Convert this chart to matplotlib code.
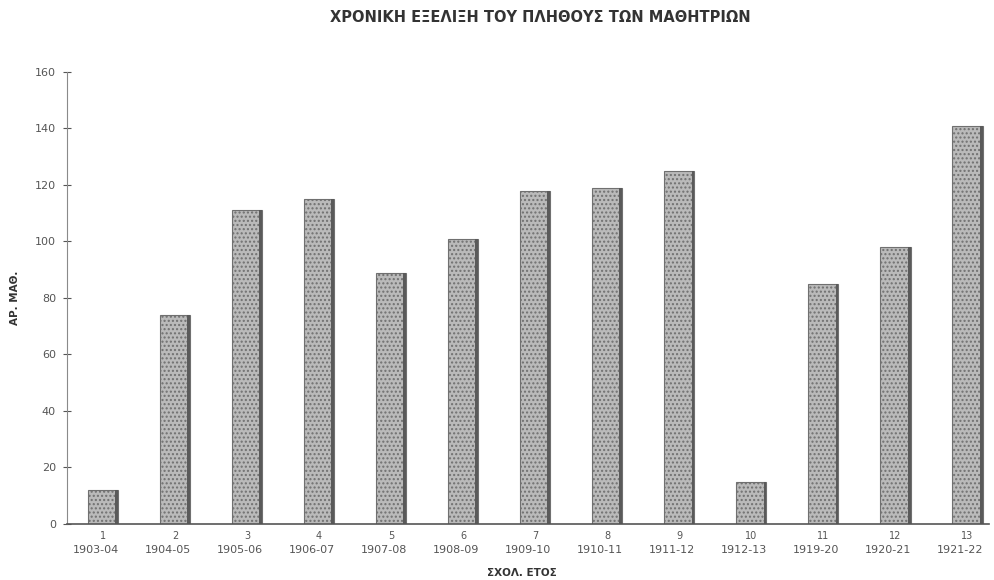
import numpy as np
import matplotlib
matplotlib.use("Agg")
import matplotlib.pyplot as plt

# school years and number of pupils per year
years = ["1903-04", "1904-05", "1905-06", "1906-07", "1907-08", "1908-09",
         "1909-10", "1910-11", "1911-12", "1912-13", "1919-20", "1920-21",
         "1921-22"]
seq_numbers = ["1", "2", "3", "4", "5", "6", "7", "8", "9", "10", "11", "12", "13"]
pupils = [12, 74, 111, 115, 89, 101, 118, 119, 125, 15, 85, 98, 141]

plt.rcParams["font.family"] = ["DejaVu Sans"]
plt.rcParams["hatch.color"] = "#dedede"
plt.rcParams["hatch.linewidth"] = 1.0

fig = plt.figure(figsize=(9.94, 5.8), dpi=100)
ax = fig.add_axes([0.0674, 0.0966, 0.9276, 0.7793])

x = np.arange(len(years))
ax.bar(x, pupils, width=0.42, color="#bababa", edgecolor="#707070",
       linewidth=0.8, hatch="....")
# darker right-hand shadow of each bar
ax.bar(x + 0.19, pupils, width=0.04, color="#5a5a5a", linewidth=0)

ax.set_xlim(-0.5, 12.3)
ax.set_ylim(0, 160)
ax.set_yticks(np.arange(0, 161, 20))
ax.tick_params(axis="y", labelsize=8, colors="#555555", direction="inout",
               length=6, width=0.8, pad=5)
ax.set_xticks(x)
ax.set_xticklabels([])
ax.tick_params(axis="x", length=0)

for xi, yr, num in zip(x, years, seq_numbers):
    ax.text(xi - 0.1, -0.057, yr, transform=ax.get_xaxis_transform(),
            ha="center", va="center", fontsize=8, color="#555555")
    ax.text(xi, -0.027, num, transform=ax.get_xaxis_transform(),
            ha="center", va="center", fontsize=7, color="#555555")

for side in ("top", "right"):
    ax.spines[side].set_visible(False)
ax.spines["left"].set_color("#8a8a8a")
ax.spines["left"].set_linewidth(0.8)
ax.spines["left"].set_linestyle((0, (6, 1)))
ax.spines["bottom"].set_color("#555555")
ax.spines["bottom"].set_linewidth(1.2)

fig.text(0.544, 0.97, "ΧΡΟΝΙΚΗ ΕΞΕΛΙΞΗ ΤΟΥ ΠΛΗΘΟΥΣ ΤΩΝ ΜΑΘΗΤΡΙΩΝ",
         ha="center", va="center", fontsize=10.5, fontweight="bold",
         color="#333333")
fig.text(0.015, 0.487, "ΑΡ. ΜΑΘ.", rotation=90, ha="center", va="center",
         fontsize=7.5, fontweight="bold", color="#333333")
fig.text(0.525, 0.012, "ΣΧΟΛ. ΕΤΟΣ", ha="center", va="center",
         fontsize=7.5, fontweight="bold", color="#333333")

fig.savefig("out.png", dpi=100)
